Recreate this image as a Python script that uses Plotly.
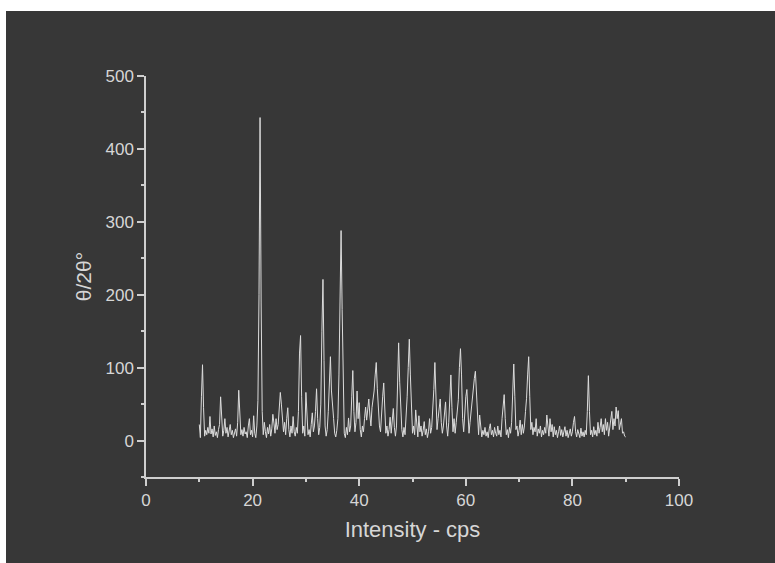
import numpy as np
import plotly.graph_objects as go

# 2-theta sampling (start, step) and intensity values
two_theta_start = 10.0
two_theta_step = 0.2
intensity = [
    22, 4, 60, 104, 45, 6, 14, 8, 18, 10,
    33, 9, 16, 5, 20, 7, 12, 4, 15, 22,
    60, 25, 6, 14, 30, 10, 18, 5, 12, 22,
    8, 14, 4, 10, 16, 6, 25, 69, 30, 8,
    15, 6, 18, 9, 12, 4, 20, 30, 8, 14,
    5, 34, 10, 4, 20, 55, 200, 443, 190, 40,
    8, 25, 12, 4, 18, 9, 22, 6, 16, 36,
    24, 10, 30, 15, 22, 40, 66, 50, 30, 12,
    25, 8, 30, 45, 15, 5, 20, 10, 33, 12,
    6, 18, 10, 40, 120, 144, 60, 10, 20, 6,
    66, 30, 8, 15, 5, 22, 38, 12, 20, 40,
    71, 30, 8, 18, 50, 150, 221, 110, 20, 6,
    15, 40, 90, 115, 68, 40, 30, 10, 5, 14,
    30, 90, 200, 288, 180, 50, 10, 4, 18, 8,
    31, 12, 20, 60, 96, 40, 12, 25, 68, 30,
    52, 15, 5, 20, 12, 30, 46, 28, 40, 57,
    35, 20, 45, 55, 68, 90, 107, 71, 45, 20,
    12, 30, 60, 79, 40, 10, 20, 6, 15, 32,
    10, 25, 44, 18, 6, 20, 70, 134, 80, 46,
    15, 5, 18, 8, 30, 60, 100, 139, 90, 30,
    10, 20, 8, 42, 15, 5, 34, 12, 20, 6,
    14, 26, 8, 16, 4, 12, 30, 10, 18, 40,
    70, 107, 60, 15, 30, 45, 57, 25, 10, 20,
    40, 53, 20, 6, 25, 60, 90, 45, 12, 30,
    10, 25, 40, 56, 100, 126, 90, 30, 12, 40,
    60, 70, 35, 10, 25, 40, 60, 77, 85, 95,
    60, 20, 8, 35, 12, 5, 14, 8, 18, 6,
    12, 4, 16, 23, 8, 14, 5, 18, 10, 6,
    20, 8, 14, 5, 30, 50, 63, 30, 8, 15,
    4, 18, 10, 25, 70, 105, 60, 15, 20, 6,
    14, 28, 8, 22, 10, 20, 40, 58, 90, 115,
    60, 15, 25, 8, 18, 12, 30, 6, 16, 10,
    20, 5, 14, 8, 18, 10, 35, 15, 6, 30,
    12, 22, 5, 19, 8, 14, 4, 12, 20, 7,
    15, 5, 12, 19, 6, 14, 4, 10, 16, 6,
    12, 25, 33, 12, 5, 15, 8, 4, 17, 6,
    12, 5, 14, 8, 40, 89, 40, 8, 14, 5,
    19, 8, 14, 6, 25, 10, 18, 30, 12, 22,
    8, 30, 14, 25, 6, 18, 28, 40, 15, 30,
    20, 46, 30, 41, 15, 25, 30, 10, 12, 6,
    5,
]
two_theta = np.round(two_theta_start + two_theta_step * np.arange(len(intensity)), 2)

x_ticks = [0, 20, 40, 60, 80, 100]
y_ticks = [0, 100, 200, 300, 400, 500]

BG = "#373737"
FG = "#d6d6d6"
AX = "#cfcfcf"
FONT = "Liberation Sans, Arial"

fig = go.Figure()
fig.add_trace(go.Scatter(
    x=two_theta, y=intensity, mode="lines",
    line=dict(color="#dcdcdc", width=1),
    showlegend=False, hoverinfo="skip",
))

# dark panel (white strip at top/left as in reference)
L, R, T, B = 146, 96, 76, 86
W, H = 775, 563
pw, ph = W - L - R, H - T - B
fig.add_shape(type="rect", xref="paper", yref="paper",
              x0=(6 - L) / pw, x1=(W - L) / pw,
              y0=-B / ph, y1=(H - B - 11) / ph,
              fillcolor=BG, line=dict(width=0), layer="below")

tick_style = dict(
    showgrid=False, zeroline=False, showline=True, linecolor=AX, linewidth=1.5,
    ticks="outside", ticklen=7, tickwidth=1.5, tickcolor=AX,
    tickfont=dict(family=FONT, size=17, color=FG),
)

fig.update_layout(
    width=W, height=H,
    margin=dict(l=L, r=R, t=T, b=B),
    paper_bgcolor="white", plot_bgcolor=BG,
    xaxis=dict(range=[0, 100], tickvals=x_ticks,
               title=dict(text="Intensity - cps", standoff=12,
                          font=dict(family=FONT, size=22, color=FG)),
               **tick_style),
    yaxis=dict(range=[-50, 500], tickvals=y_ticks,
               title=dict(text="θ/2θ°", standoff=8,
                          font=dict(family=FONT, size=21, color=FG)),
               **tick_style),
)
fig.update_xaxes(minor=dict(ticks="outside", ticklen=3, tickwidth=1.5, tickcolor=AX, tick0=0, dtick=10))
fig.update_yaxes(minor=dict(ticks="outside", ticklen=3, tickwidth=1.5, tickcolor=AX, tick0=0, dtick=50))

fig.write_html("out.html", config={"displayModeBar": False},
               post_script="document.body.style.margin='0';document.body.style.overflow='hidden';")
